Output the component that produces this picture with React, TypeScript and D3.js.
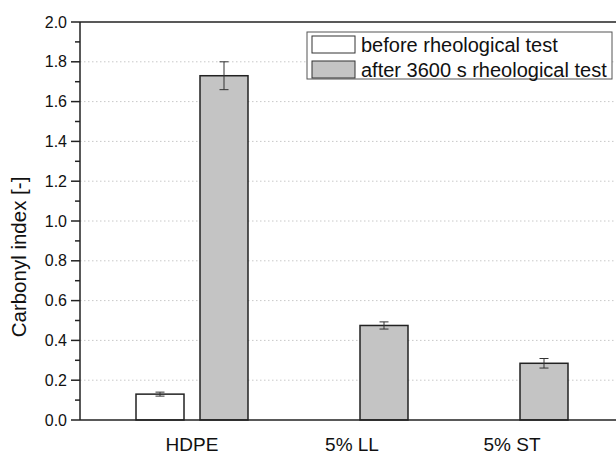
import React from "react";
import * as d3 from "d3";

// categories and series
const categories = ["HDPE", "5% LL", "5% ST"];
const seriesNames = ["before rheological test", "after 3600 s rheological test"];
const beforeValues: (number | null)[] = [0.13, null, null];
const beforeErrors: (number | null)[] = [0.01, null, null];
const afterValues = [1.73, 0.475, 0.285];
const afterErrors = [0.07, 0.018, 0.024];
const yTicks = [0, 0.2, 0.4, 0.6, 0.8, 1.0, 1.2, 1.4, 1.6, 1.8, 2.0];

const W = 616;
const H = 456;
const FONT = "'Liberation Sans', Arial, sans-serif";
const fills = ["#ffffff", "#c4c4c4"];

export default function App() {
  const left = 80;
  const top = 22;
  const bottom = 420;

  const y = d3.scaleLinear().domain([0, 2]).range([bottom, top]);
  // plot area runs past the right edge of the window
  const x = d3.scaleLinear().domain([-0.7, 2.8]).range([left, 640]);
  const sub = d3.scaleBand<number>().domain([0, 1]).range([-56, 56]).paddingInner(0.25);
  const bw = sub.bandwidth();

  const minorTicks = d3.range(0.1, 2, 0.2);
  const series = [
    { values: beforeValues, errors: beforeErrors },
    { values: afterValues, errors: afterErrors },
  ];

  return (
    <svg
      width={W}
      height={H}
      style={{ position: "absolute", left: 0, top: 0, background: "#fff" }}
      fontFamily={FONT}
    >
      {/* grid */}
      {yTicks.filter((t) => t > 0 && t < 2).map((t) => (
        <line
          key={"g" + t}
          x1={left}
          x2={W}
          y1={y(t)}
          y2={y(t)}
          stroke="#c8c8c8"
          strokeWidth={1}
          strokeDasharray="1.5 2.5"
        />
      ))}

      {/* bars */}
      {series.map((s, si) =>
        s.values.map((v, ci) => {
          if (v == null) return null;
          const bx = x(ci) + (sub(si) as number);
          const err = s.errors[ci] as number;
          const cx = bx + bw / 2;
          return (
            <g key={`b${si}-${ci}`}>
              <rect
                x={bx}
                y={y(v)}
                width={bw}
                height={bottom - y(v)}
                fill={fills[si]}
                stroke="#222"
                strokeWidth={1.5}
              />
              <g stroke="#333" strokeWidth={1}>
                <line x1={cx} x2={cx} y1={y(v + err)} y2={y(v - err)} />
                <line x1={cx - 4.5} x2={cx + 4.5} y1={y(v + err)} y2={y(v + err)} />
                <line x1={cx - 4.5} x2={cx + 4.5} y1={y(v - err)} y2={y(v - err)} />
              </g>
            </g>
          );
        })
      )}

      {/* frame */}
      <line x1={left} x2={W} y1={top} y2={top} stroke="#222" strokeWidth={1.5} />
      <line x1={left} x2={W} y1={bottom} y2={bottom} stroke="#222" strokeWidth={1.5} />
      <line x1={left} x2={left} y1={top} y2={bottom} stroke="#222" strokeWidth={1.5} />

      {/* y ticks */}
      {yTicks.map((t) => (
        <g key={"t" + t}>
          <line x1={left - 9} x2={left} y1={y(t)} y2={y(t)} stroke="#222" strokeWidth={1.5} />
          <text
            x={left - 13}
            y={y(t)}
            dy="0.35em"
            textAnchor="end"
            fontSize={16}
            fill="#111"
          >
            {t.toFixed(1)}
          </text>
        </g>
      ))}
      {minorTicks.map((t) => (
        <line key={"m" + t} x1={left - 5} x2={left} y1={y(t)} y2={y(t)} stroke="#222" strokeWidth={1.5} />
      ))}

      {/* x labels */}
      {categories.map((c, i) => (
        <text key={c} x={x(i)} y={451} textAnchor="middle" fontSize={19} fill="#111">
          {c}
        </text>
      ))}

      {/* y title */}
      <text
        transform={`translate(26,${(top + bottom) / 2 + 36}) rotate(-90)`}
        textAnchor="middle"
        fontSize={20.5}
        fill="#111"
      >
        Carbonyl index [-]
      </text>

      {/* legend */}
      <g>
        <rect x={307} y={32} width={305} height={47} fill="#fff" stroke="#555" strokeWidth={1} />
        {seriesNames.map((n, i) => (
          <g key={n} transform={`translate(312,${36 + i * 25})`}>
            <rect x={0} y={0} width={43} height={17} fill={fills[i]} stroke="#333" strokeWidth={1} />
            <text x={49} y={8.5} dy="0.36em" fontSize={20} fill="#111">
              {n}
            </text>
          </g>
        ))}
      </g>
    </svg>
  );
}
